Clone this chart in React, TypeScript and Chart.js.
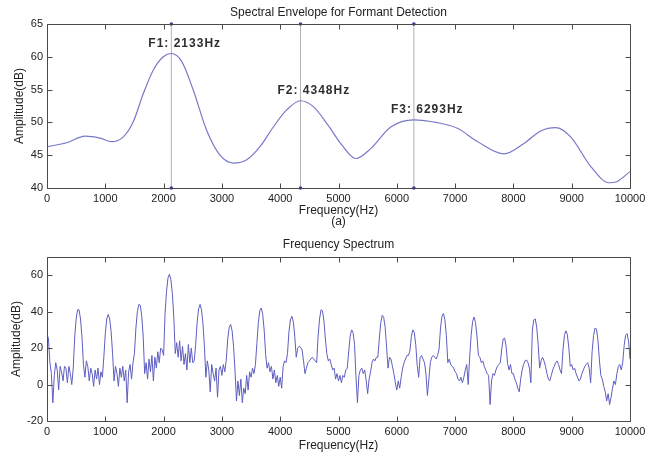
import React, { useEffect, useRef } from 'react';
import { Chart, registerables } from 'chart.js';

Chart.register(...registerables);

const W = 654;
const H = 230;
const FONT = '"Liberation Sans", Arial, sans-serif';

// ---------- Shared x axis ----------
const X_MIN = 0;
const X_MAX = 10000;
const xTicks = [0, 1000, 2000, 3000, 4000, 5000, 6000, 7000, 8000, 9000, 10000];

// ---------- (a) Spectral envelope ----------
const ENV_Y_MIN = 40;
const ENV_Y_MAX = 65;
const envYTicks = [40, 45, 50, 55, 60, 65];
const envelopeFreqs = [0, 337, 652, 909, 1109, 1310, 1480, 1652, 1824, 1995, 2133, 2310, 2510, 2738, 2967, 3196, 3425, 3653, 3882, 4111, 4348, 4569, 4826, 5037, 5295, 5552, 5895, 6293, 6695, 7038, 7381, 7839, 8182, 8468, 8725, 8982, 9325, 9640, 9782, 10000];
const envelopeDb = [46.3, 46.9, 47.9, 47.6, 47.06, 47.8, 50.1, 54.4, 58.0, 60.0, 60.5, 59.3, 54.9, 48.8, 45.0, 43.8, 44.3, 46.3, 49.3, 51.9, 53.3, 52.4, 49.5, 46.8, 44.5, 46.0, 49.3, 50.4, 49.96, 49.1, 47.1, 45.2, 46.8, 48.7, 49.2, 47.8, 43.3, 40.8, 41.0, 42.5];
const formantNames = ['F1', 'F2', 'F3'];
const formantFreqs = [2133, 4348, 6293];
const formantPeaksDb = [60.5, 53.3, 50.4];

// ---------- Frequency spectrum ----------
const SPEC_Y_MIN = -20;
const SPEC_Y_MAX = 70;
const specYTicks = [-20, 0, 20, 40, 60];
const SPECTRUM_STEP_HZ = 25;
const spectrumDb = [
  28, 25, 12, 6, -10, 5, 12, 8, -3, 10, 7, 2, 10, 9, 1, 10, 6, 0, 9, 26,
  36, 41, 41, 36, 26, 11, 4, 13, 10, 2, 9, 6, -1, 8, 3, 9, 0, 7, 4, 15,
  28, 36, 38.5, 36, 29, 17, 2, 10, 6, -1, 9, 4, 10, 2, 8, -10, 7, 11, 3, 12,
  17, 31, 40, 44, 43.5, 37.5, 26.5, 6, 12, 3, 14, 7, 16, 2, 15, 9, 18, 12, 20, 19,
  16, 39, 51, 58.5, 60.5, 57.5, 50, 37, 17, 23, 15, 24, 13, 21, 11, 17, 8, 22, 12, 20,
  12, 13, 22, 34, 41.5, 44, 41, 33.5, 21, 4, 13, 8, -4, 11, 6, 2, 9, -7, 8, 10,
  5, 11, 7, 13.5, 25, 31.5, 33, 29.5, 21, 7.5, -9, 2, -6, 3, -10, -2, -5, 5, -3, 7,
  4, 9, 6, 11, 22.5, 34, 40.5, 42, 38.5, 30, 16.5, 9, 12, 7, 10, 3, 8, 1, 5, -1,
  4, -2, 10, 13, 12, 17, 29, 35.5, 37.5, 34.5, 26.5, 15, 20, 21, 20.5, 19, 13, 6, 9, 12,
  13, 14, 15, 14, 13, 12, 26.5, 36, 41, 40.5, 35, 25, 17, 13, 14, 11, 8, 9, 3, 6,
  2, 5, 1, 5, 4, 8, 9, 18, 26.5, 30, 28.5, 22, 4, -10, 5, 8, 9, 6, 8, 2,
  -5, 3, 7, 12, 14, 13, 15, 15, 25, 34, 38, 37, 31.5, 20.5, 9, 15, 14, 10, 6, 1,
  -3, 2, -2, 4, 9, 12, 14, 16, 16, 18.5, 26.5, 30, 28.5, 22, 10.5, 4, 15, 16, 14, 12,
  6, -6, 3, 12, 15, 16, 15, 14, 16, 19.5, 31, 37.5, 39, 35.5, 27, 12, 14, 11, 10, 9,
  7, 6, 3, 2, 4, 1, 4, 8, 11, 0, 15, 27, 34.5, 37, 34, 26.5, 16, 15, 12, 13,
  10, 8, 6, 5, -11, 2, 6, 5, 8, 10, 11, 12, 19.5, 25, 25.5, 21, 11.5, 8, 11, 6,
  6, 3, 1, -2, -4, 3, 8, 11, 13, 13.5, 12, 9, 1, 30, 35.5, 36, 31.5, 22, 9, 13,
  15, 13, 10, 6, 3, 2, 5, 8, 10, 12, 13, 11, 8, 6, 19, 27, 29.5, 27.5, 20.5, 10,
  11, 8, 9, 6, 4, 2, 3, 6, 8, 10, 11, 12, 9, 1, 18, 27, 31, 30.5, 24.5, 13.5,
  5, 3, -1, -4, -9, -5, -11, -7, -2, 2, 0, 6, 10, 11, 8, 12, 21.5, 27, 28, 24,
  14,
];

type FrameOpts = {
  title: string;
  titleOffset: number;
  xTitle: string;
  xTitleOffset: number;
  sub?: string;
  yTitle: string;
  yTitleX: number;
  formants?: boolean;
};

function makeFramePlugin(o: FrameOpts) {
  return {
    id: 'matlabFrame',
    afterDatasetsDraw(chart: any) {
      const { ctx, scales } = chart;
      const x = scales.x;
      const y = scales.y;
      ctx.save();
      if (o.formants) {
        ctx.fillStyle = '#2e2e2e';
        ctx.font = `bold 12px ${FONT}`;
        (ctx as any).letterSpacing = '1px';
        ctx.textAlign = 'left';
        ctx.textBaseline = 'middle';
        formantNames.forEach((n, i) => {
          const px = x.getPixelForValue(formantFreqs[i]);
          const py = y.getPixelForValue(formantPeaksDb[i]);
          ctx.fillText(`${n}: ${formantFreqs[i]}Hz`, px - 23, py - 10);
        });
        (ctx as any).letterSpacing = '0px';
      }
      ctx.restore();
    },
    afterDraw(chart: any) {
      const { ctx, chartArea, scales } = chart;
      const { left, right, top, bottom } = chartArea;
      const x = scales.x;
      const y = scales.y;
      ctx.save();
      ctx.strokeStyle = '#4a4a4a';
      ctx.lineWidth = 1;
      const l = Math.round(left) + 0.5;
      const r = Math.round(right) + 0.5;
      const t = Math.round(top) + 0.5;
      const b = Math.round(bottom) + 0.5;
      ctx.beginPath();
      ctx.rect(l, t, r - l, b - t);
      const tl = 5;
      x.ticks.forEach((tk: any) => {
        const px = Math.round(x.getPixelForValue(tk.value)) + 0.5;
        ctx.moveTo(px, b);
        ctx.lineTo(px, b - tl);
        ctx.moveTo(px, t);
        ctx.lineTo(px, t + tl);
      });
      y.ticks.forEach((tk: any) => {
        const py = Math.round(y.getPixelForValue(tk.value)) + 0.5;
        ctx.moveTo(l, py);
        ctx.lineTo(l + tl, py);
        ctx.moveTo(r, py);
        ctx.lineTo(r - tl, py);
      });
      ctx.stroke();

      const cx = (left + right) / 2;
      ctx.fillStyle = '#222';
      ctx.font = `12px ${FONT}`;
      ctx.textAlign = 'center';
      ctx.textBaseline = 'middle';
      ctx.fillText(o.title, cx, top - o.titleOffset);
      ctx.fillText(o.xTitle, cx, bottom + o.xTitleOffset);
      if (o.sub) ctx.fillText(o.sub, cx, bottom + o.xTitleOffset + 11);
      ctx.save();
      ctx.translate(o.yTitleX, (top + bottom) / 2);
      ctx.rotate(-Math.PI / 2);
      ctx.fillText(o.yTitle, 0, 0);
      ctx.restore();
      ctx.restore();
    },
  };
}

function axisOptions(min: number, max: number, ticks: number[], isX: boolean, size: number) {
  return {
    type: 'linear' as const,
    min,
    max,
    grid: { display: false, drawTicks: false },
    border: { display: false },
    ticks: {
      font: { family: FONT, size: 11 },
      color: '#222',
      padding: 4,
      maxRotation: 0,
      autoSkip: false,
      callback: (v: any) => String(v),
    },
    afterBuildTicks: (s: any) => {
      s.ticks = ticks.map((v) => ({ value: v }));
    },
    afterFit: (s: any) => {
      if (isX) s.height = size;
      else s.width = size;
    },
  };
}

function App() {
  const topRef = useRef<HTMLCanvasElement | null>(null);
  const botRef = useRef<HTMLCanvasElement | null>(null);

  useEffect(() => {
    const c1 = new Chart(topRef.current as HTMLCanvasElement, {
      type: 'line',
      data: {
        datasets: [
          {
            data: envelopeFreqs.map((f, i) => ({ x: f, y: envelopeDb[i] })),
            borderColor: '#7878c8',
            borderWidth: 1.2,
            pointRadius: 0,
            cubicInterpolationMode: 'monotone',
          } as any,
          ...formantFreqs.map((f) => ({
            data: [
              { x: f, y: ENV_Y_MIN },
              { x: f, y: ENV_Y_MAX },
            ],
            borderColor: '#b4b4b4',
            borderWidth: 1,
            pointRadius: 1.8,
            pointBackgroundColor: '#3a3aa0',
            pointBorderWidth: 0,
            clip: false as any,
          })),
        ],
      },
      options: {
        responsive: false,
        animation: false,
        devicePixelRatio: 1,
        layout: { padding: { top: 24, right: 24, left: 0, bottom: 0 } },
        plugins: { legend: { display: false }, tooltip: { enabled: false }, title: { display: false } },
        scales: {
          x: axisOptions(X_MIN, X_MAX, xTicks, true, 42) as any,
          y: axisOptions(ENV_Y_MIN, ENV_Y_MAX, envYTicks, false, 47) as any,
        },
      },
      plugins: [
        makeFramePlugin({
          title: 'Spectral Envelope for Formant Detection',
          titleOffset: 11,
          xTitle: 'Frequency(Hz)',
          xTitleOffset: 23,
          sub: '(a)',
          yTitle: 'Amplitude(dB)',
          yTitleX: 20,
          formants: true,
        }),
      ],
    });

    const c2 = new Chart(botRef.current as HTMLCanvasElement, {
      type: 'line',
      data: {
        datasets: [
          {
            data: spectrumDb.map((v, i) => ({ x: i * SPECTRUM_STEP_HZ, y: v })),
            borderColor: '#5e5ec0',
            borderWidth: 1,
            pointRadius: 0,
            tension: 0,
          },
        ],
      },
      options: {
        responsive: false,
        animation: false,
        devicePixelRatio: 1,
        layout: { padding: { top: 27, right: 24, left: 0, bottom: 0 } },
        plugins: { legend: { display: false }, tooltip: { enabled: false }, title: { display: false } },
        scales: {
          x: axisOptions(X_MIN, X_MAX, xTicks, true, 39) as any,
          y: axisOptions(SPEC_Y_MIN, SPEC_Y_MAX, specYTicks, false, 47) as any,
        },
      },
      plugins: [
        makeFramePlugin({
          title: 'Frequency Spectrum',
          titleOffset: 12,
          xTitle: 'Frequency(Hz)',
          xTitleOffset: 25,
          yTitle: 'Amplitude(dB)',
          yTitleX: 17,
        }),
      ],
    });

    return () => {
      c1.destroy();
      c2.destroy();
    };
  }, []);

  return (
    <div style={{ position: 'absolute', left: 0, top: 0, width: W, height: 2 * H, background: '#fff' }}>
      <canvas ref={topRef} width={W} height={H} style={{ display: 'block', width: W, height: H }} />
      <canvas ref={botRef} width={W} height={H} style={{ display: 'block', width: W, height: H }} />
    </div>
  );
}

export default App;
